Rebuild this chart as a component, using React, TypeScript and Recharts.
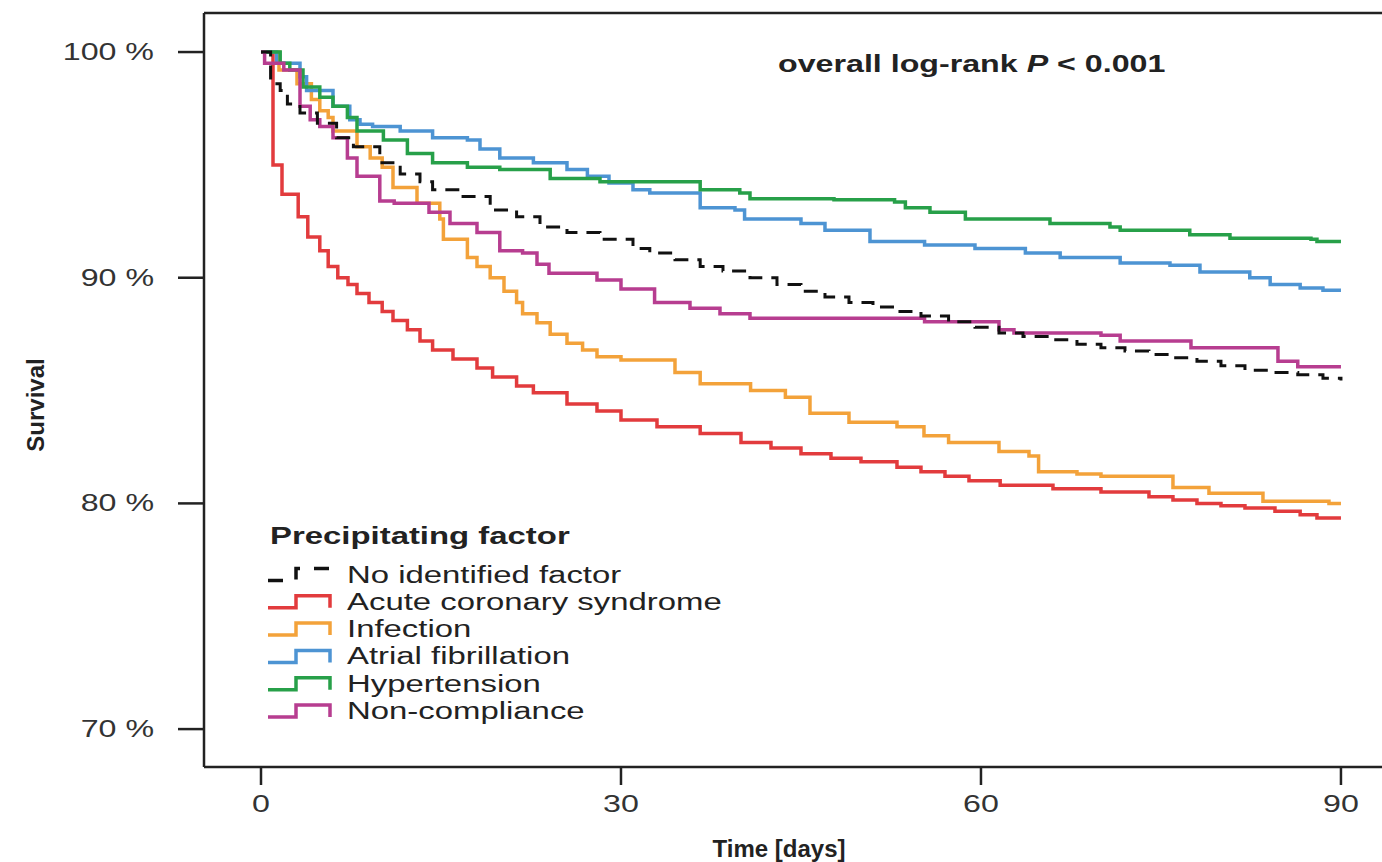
import React from "react";
import { LineChart, Line, XAxis, YAxis, ReferenceLine } from "recharts";

const FONT = '"Liberation Sans", Arial, Helvetica, sans-serif';
// the source figure is stretched sideways, so most text is widened to match
const SX = 1.4;

const W = 1382;
const H = 862;

const xTicks = [0, 30, 60, 90];
const yTicks = [70, 80, 90, 100];
const X_MIN = -4.75;
const X_MAX = 93.42;
const Y_MIN = 68.32;
const Y_MAX = 101.73;

// No identified factor
const nifDays = [0, 0.8, 1.6, 2.2, 3.25, 4.7, 6.3, 7.7, 9.9, 11.6, 13.25, 14.3, 16.6, 19.1, 21.3, 23.25, 25.5, 28.25, 31, 32.4, 34.5, 36.6, 38.5, 40.75, 43, 45, 47, 49, 51, 53, 55, 57.3, 59.5, 61.5, 63.5, 65.7, 68, 70, 72, 74, 76, 78, 80, 82, 84, 86.4, 88.5, 90];
const nifSurv = [100, 98.6, 98.3, 97.7, 97.3, 96.85, 96.2, 95.8, 95.1, 94.6, 94.25, 93.9, 93.6, 93.0, 92.7, 92.25, 92.0, 91.7, 91.3, 91.1, 90.8, 90.5, 90.3, 90.0, 89.7, 89.4, 89.15, 88.9, 88.7, 88.5, 88.3, 88.05, 87.8, 87.55, 87.4, 87.25, 87.05, 86.9, 86.75, 86.6, 86.45, 86.3, 86.1, 85.9, 85.8, 85.7, 85.55, 85.45];

// Acute coronary syndrome
const acsDays = [0, 1.0, 1.75, 3.1, 3.9, 4.9, 5.6, 6.4, 7.25, 8.0, 9.0, 10.1, 11.0, 12.2, 13.25, 14.3, 16.0, 18.0, 19.3, 21.3, 22.7, 25.5, 28.0, 30.0, 33, 36.6, 40, 42.5, 45, 47.5, 50, 53, 55, 57, 59, 61.6, 66, 70, 74, 76, 78, 80, 82, 84.5, 86.6, 88, 90];
const acsSurv = [100, 95.0, 93.7, 92.7, 91.8, 91.2, 90.5, 90.0, 89.7, 89.3, 88.9, 88.5, 88.1, 87.7, 87.2, 86.8, 86.4, 86.0, 85.6, 85.2, 84.9, 84.4, 84.1, 83.7, 83.4, 83.1, 82.7, 82.45, 82.2, 82.0, 81.85, 81.6, 81.4, 81.2, 81.0, 80.8, 80.65, 80.5, 80.3, 80.15, 80.0, 79.9, 79.8, 79.65, 79.5, 79.35, 79.35];

// Infection
const infDays = [0, 1.5, 3, 4.2, 4.9, 5.6, 6.0, 8.0, 9.1, 10.1, 11.0, 13.0, 14.9, 15.2, 17.2, 18.0, 19.1, 20.25, 21.3, 21.8, 23.0, 24.1, 25.5, 26.8, 28.0, 30.0, 34.5, 36.6, 40.8, 43.7, 45.75, 49, 53, 55.25, 57.3, 61.5, 64, 64.8, 68, 70, 76, 79, 83.5, 89, 90];
const infSurv = [100, 99.2, 98.6, 97.9, 97.4, 97.1, 96.5, 95.8, 95.3, 94.9, 94.0, 93.3, 92.6, 91.7, 90.9, 90.5, 90.0, 89.4, 88.9, 88.4, 88.0, 87.5, 87.1, 86.8, 86.5, 86.35, 85.8, 85.3, 85.0, 84.7, 84.0, 83.6, 83.4, 83.0, 82.7, 82.3, 82.1, 81.4, 81.3, 81.2, 80.7, 80.45, 80.1, 80.0, 80.0];

// Atrial fibrillation
const afDays = [0, 1.3, 3.25, 3.8, 6.0, 7.4, 8.25, 9.3, 11.6, 14.3, 17.2, 18.25, 19.9, 22.7, 25.5, 27.2, 29, 31, 32.4, 36.6, 39.5, 40.3, 45, 47, 50.75, 55.3, 59.5, 63.7, 66.6, 71.6, 75.75, 78.25, 82.4, 84.1, 86.6, 88.5, 90];
const afSurv = [100, 99.5, 98.9, 98.3, 97.6, 97.0, 96.8, 96.7, 96.5, 96.2, 96.1, 95.7, 95.3, 95.1, 94.8, 94.5, 94.2, 93.9, 93.75, 93.1, 93.0, 92.6, 92.4, 92.1, 91.6, 91.45, 91.3, 91.1, 90.9, 90.65, 90.55, 90.25, 90.0, 89.7, 89.55, 89.45, 89.45];

// Hypertension
const htnDays = [0, 1.6, 2.4, 3.5, 4.9, 6.0, 7.2, 8.0, 10.2, 12.2, 14.3, 17.2, 19.9, 24.1, 28.25, 36.6, 39.9, 40.75, 47.75, 52.8, 53.7, 55.75, 58.7, 65.75, 70.75, 71.6, 77.4, 80.75, 87.5, 88, 90];
const htnSurv = [100, 99.5, 99.2, 98.45, 98.0, 97.6, 97.1, 96.5, 96.1, 95.5, 95.1, 94.9, 94.8, 94.4, 94.25, 93.9, 93.75, 93.5, 93.45, 93.35, 93.1, 92.9, 92.6, 92.4, 92.25, 92.1, 91.9, 91.75, 91.7, 91.6, 91.6];

// Non-compliance
const ncDays = [0, 0.3, 1.9, 3.25, 4.1, 4.9, 6.0, 7.2, 8.0, 9.9, 11.1, 14.0, 15.75, 18.0, 19.9, 21.8, 23.0, 24.0, 28.0, 30.0, 32.8, 35.75, 38.25, 40.75, 55.3, 61.5, 62.75, 70, 71.6, 77.5, 84.75, 86.4, 90];
const ncSurv = [100, 99.5, 99.2, 97.6, 97.0, 96.7, 96.2, 95.3, 94.5, 93.4, 93.3, 92.9, 92.4, 92.0, 91.2, 91.1, 90.6, 90.2, 89.9, 89.5, 88.9, 88.65, 88.4, 88.2, 88.05, 87.7, 87.55, 87.45, 87.2, 86.9, 86.3, 86.05, 86.05];

const names = [
  "No identified factor",
  "Acute coronary syndrome",
  "Infection",
  "Atrial fibrillation",
  "Hypertension",
  "Non-compliance",
];
const colors = ["#111111", "#e23b3d", "#f3a23a", "#4d94d3", "#27a049", "#b73d90"];

function toPoints(days: number[], surv: number[]) {
  return days.map((d, i) => ({ day: d, s: surv[i] }));
}

const series = [
  { name: names[0], color: colors[0], dash: "14 9", data: toPoints(nifDays, nifSurv) },
  { name: names[1], color: colors[1], dash: undefined, data: toPoints(acsDays, acsSurv) },
  { name: names[2], color: colors[2], dash: undefined, data: toPoints(infDays, infSurv) },
  { name: names[3], color: colors[3], dash: undefined, data: toPoints(afDays, afSurv) },
  { name: names[4], color: colors[4], dash: undefined, data: toPoints(htnDays, htnSurv) },
  { name: names[5], color: colors[5], dash: undefined, data: toPoints(ncDays, ncSurv) },
];
// draw order: colours first, dashed reference on top
const drawOrder = [1, 2, 3, 4, 5, 0];

function Stretched({ x, y, children, anchor = "start", size = 23, bold = false, rotate = 0, sx = SX, fill = "#222" }: any) {
  const tf = `translate(${x} ${y}) scale(${sx} 1)` + (rotate ? ` rotate(${rotate})` : "");
  return (
    <text
      transform={tf}
      textAnchor={anchor}
      fontFamily={FONT}
      fontSize={size}
      fontWeight={bold ? "bold" : "normal"}
      fill={fill}
    >
      {children}
    </text>
  );
}

const YTick = (props: any) => {
  const { x, y, payload } = props;
  return (
    <Stretched x={x} y={y + 8} anchor="end" fill="#333">
      {`${payload.value} %`}
    </Stretched>
  );
};

const XTick = (props: any) => {
  const { x, y, payload } = props;
  return (
    <Stretched x={x} y={y + 27} anchor="middle" fill="#333">
      {payload.value}
    </Stretched>
  );
};

function Overlay() {
  const rowY0 = 574.5;
  const rowStep = 27.3;
  return (
    <svg width={W} height={H} style={{ position: "absolute", left: 0, top: 0, pointerEvents: "none" }}>
      <Stretched x={778} y={72} size={23} bold>
        overall log-rank <tspan fontStyle="italic">P</tspan> {"< 0.001"}
      </Stretched>
      <Stretched x={44} y={405} size={24} bold rotate={-90} anchor="middle" sx={1}>
        Survival
      </Stretched>
      <Stretched x={779} y={857} size={24} bold anchor="middle" sx={1}>
        Time [days]
      </Stretched>
      <Stretched x={270} y={544} size={23.5} bold>
        Precipitating factor
      </Stretched>
      {series.map((s, i) => {
        const cy = rowY0 + i * rowStep;
        return (
          <g key={s.name}>
            <path
              d={`M268 ${cy + 6} H296 V${cy - 6} H330 V${cy + 6}`}
              fill="none"
              stroke={s.color}
              strokeWidth={3.5}
              strokeDasharray={s.dash ? "15 14" : undefined}
            />
            <Stretched x={347} y={cy + 8} size={23.5}>
              {s.name}
            </Stretched>
          </g>
        );
      })}
    </svg>
  );
}

export default function App() {
  return (
    <div style={{ position: "absolute", left: 0, top: 0, width: W, height: H, overflow: "hidden", background: "#fff" }}>
      <LineChart width={W} height={H} margin={{ top: 13, right: 0, bottom: 0, left: 0 }}>
        <XAxis
          dataKey="day"
          type="number"
          domain={[X_MIN, X_MAX]}
          ticks={xTicks}
          allowDataOverflow
          height={95}
          tickSize={18}
          tickMargin={0}
          tick={<XTick />}
          axisLine={{ stroke: "#222", strokeWidth: 2.5 }}
          tickLine={{ stroke: "#222", strokeWidth: 2.5 }}
        />
        <YAxis
          type="number"
          domain={[Y_MIN, Y_MAX]}
          ticks={yTicks}
          allowDataOverflow
          width={204}
          tickSize={26}
          tickMargin={24}
          tick={<YTick />}
          axisLine={{ stroke: "#222", strokeWidth: 2.5 }}
          tickLine={{ stroke: "#222", strokeWidth: 2.5 }}
        />
        <ReferenceLine y={Y_MAX} stroke="#222" strokeWidth={2.5} />
        {drawOrder.map((i) => {
          const s = series[i];
          return (
            <Line
              key={s.name}
              data={s.data}
              dataKey="s"
              name={s.name}
              type="stepAfter"
              stroke={s.color}
              strokeWidth={s.dash ? 3 : 3.5}
              strokeDasharray={s.dash}
              dot={false}
              activeDot={false}
              isAnimationActive={false}
            />
          );
        })}
      </LineChart>
      <Overlay />
    </div>
  );
}
